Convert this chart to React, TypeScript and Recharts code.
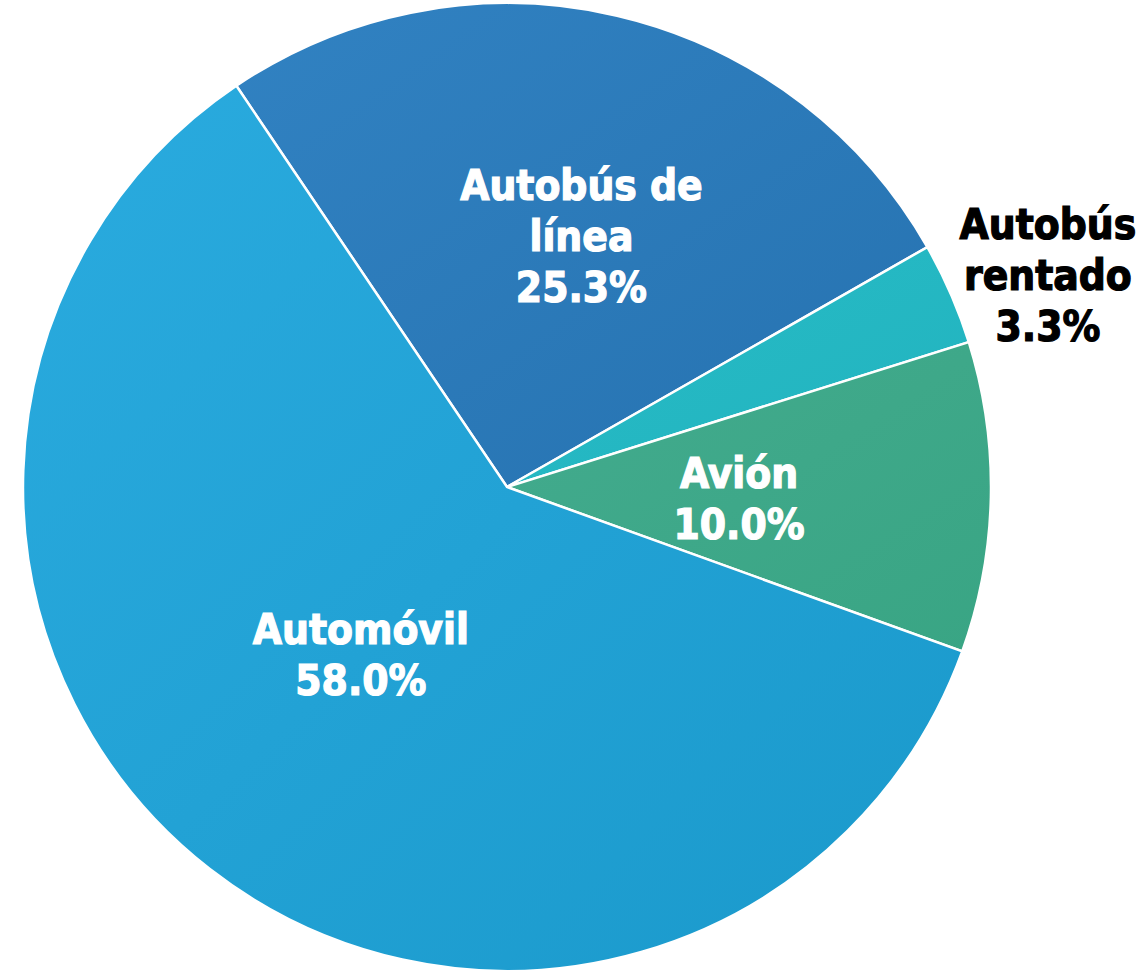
import React from "react";
import { PieChart, Pie, Cell } from "recharts";

const modes = ["Autobús de línea", "Autobús rentado", "Avión", "Automóvil"];
const shares = [25.3, 3.3, 10.0, 58.0];
const labelLines = [["Autobús de", "línea"], ["Autobús", "rentado"], ["Avión"], ["Automóvil"]];
// label placement: fraction of radius and a small angle nudge per slice
const labelRadius = [0.54, 1.2, 0.48, 0.46];
const labelShift = [-3.4, -2.2, -1.5, -3.1];
const gradients = [
  ["#3182c2", "#2672b0"],
  ["#27bcc6", "#22b3bf"],
  ["#43ab8e", "#39a584"],
  ["#2aabdf", "#1a99cb"],
];

const data = modes.map((name, i) => ({ name, value: shares[i] }));

const RAD = Math.PI / 180;

const renderLabel = (props: any) => {
  const { cx, cy, midAngle, outerRadius, index } = props;
  const outside = index === 1;
  const r = outerRadius * labelRadius[index];
  const a = midAngle + labelShift[index];
  const x = cx + r * Math.cos(-a * RAD);
  const y = cy + r * Math.sin(-a * RAD);
  const lines = [...labelLines[index], `${shares[index].toFixed(1)}%`];
  const lh = 51;
  const top = y - ((lines.length - 1) * lh) / 2 + 15;
  const color = outside ? "#000" : "#fff";
  return (
    <text
      x={x}
      y={top}
      textAnchor="middle"
      fill={color}
      stroke={color}
      strokeWidth={1.2}
      style={{
        fontFamily: "'DejaVu Sans Condensed', 'DejaVu Sans', sans-serif",
        fontStretch: "condensed",
        fontWeight: 700,
        fontSize: 42,
      }}
    >
      {lines.map((l, i) => (
        <tspan key={i} x={x} dy={i === 0 ? 0 : lh}>
          {l}
        </tspan>
      ))}
    </text>
  );
};

export default function App() {
  return (
    <div style={{ position: "absolute", left: 0, top: 0 }}>
      <PieChart width={1140} height={972} margin={{ top: 0, right: 0, bottom: 0, left: 0 }}>
        <defs>
          {gradients.map((g, i) => (
            <linearGradient key={i} id={`grad${i}`} x1="0" y1="0" x2="1" y2="1">
              <stop offset="0%" stopColor={g[0]} />
              <stop offset="100%" stopColor={g[1]} />
            </linearGradient>
          ))}
        </defs>
        <Pie
          data={data}
          dataKey="value"
          nameKey="name"
          cx={507}
          cy={487}
          outerRadius={484}
          startAngle={124}
          endAngle={-236}
          stroke="#fff"
          strokeWidth={2.5}
          label={renderLabel}
          labelLine={false}
          isAnimationActive={false}
        >
          {data.map((d, i) => (
            <Cell key={d.name} fill={`url(#grad${i})`} />
          ))}
        </Pie>
      </PieChart>
    </div>
  );
}
